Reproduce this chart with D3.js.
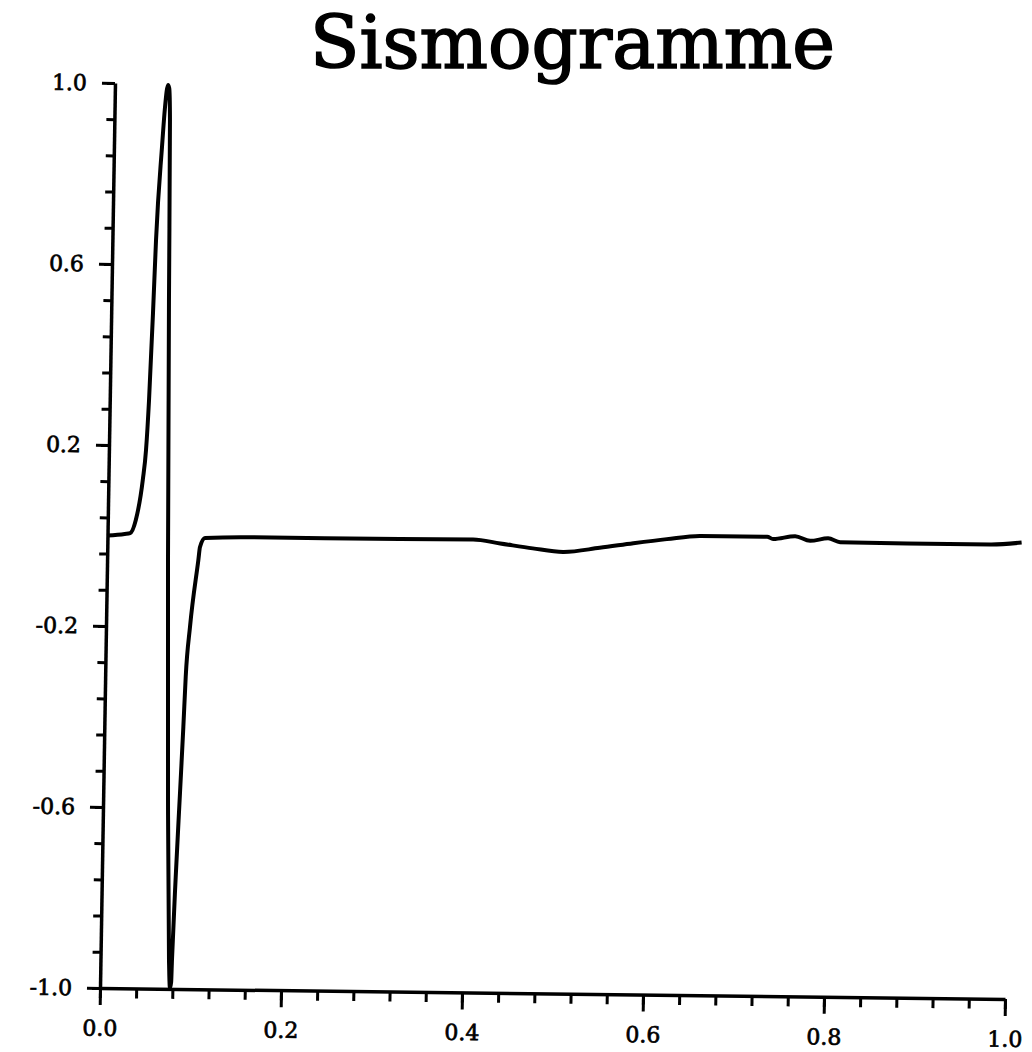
<!DOCTYPE html>
<html>
<head>
<meta charset="utf-8">
<script src="https://cdn.jsdelivr.net/npm/d3@7"></script>
<style>
  html, body { margin: 0; padding: 0; background: #fff; }
  svg { display: block; }
</style>
</head>
<body>
<svg id="chart" width="1032" height="1052"></svg>
<script>
// ---- data ----
const titleText = "Sismogramme";
const times = [0.000, 0.019, 0.025, 0.031, 0.038, 0.041, 0.0434, 0.0462, 0.0482, 0.0531, 0.0557, 0.0586, 0.0600,
  0.0614, 0.0636, 0.0673, 0.0717, 0.0757, 0.0773, 0.0785, 0.0790, 0.0816, 0.0848, 0.0873, 0.0890, 0.0928,
  0.1008, 0.1024, 0.1078, 0.1570, 0.3230, 0.4040, 0.4340, 0.4700, 0.5036, 0.5440, 0.5810, 0.6180, 0.6550,
  0.7288, 0.7354, 0.7597, 0.7763, 0.7962, 0.8095, 0.8836, 0.9753, 1.0100];
const amplitudes = [0.000, 0.004, 0.006, 0.035, 0.124, 0.190, 0.300, 0.493, 0.654, 0.860, 0.948, 0.997, 0.990,
  0.920, 0.522, -0.053, -0.583, -0.936, -0.998, -0.985, -0.936, -0.753, -0.567, -0.421, -0.310, -0.200,
  -0.052, -0.023, -0.003, 0.000, 0.000, 0.001, -0.007, -0.017, -0.024, -0.014, -0.003, 0.007, 0.015,
  0.015, 0.010, 0.017, 0.007, 0.013, 0.005, 0.004, 0.004, 0.009];
const xMajorTicks = [0.0, 0.2, 0.4, 0.6, 0.8, 1.0];
const xTickLabels = ["0.0", "0.2", "0.4", "0.6", "0.8", "1.0"];
const xMinorTicks = d3.range(0, 26).map(k => +(k * 0.04).toFixed(2));
const yMajorTicks = [-1.0, -0.6, -0.2, 0.2, 0.6, 1.0];
const yTickLabels = ["-1.0", "-0.6", "-0.2", "0.2", "0.6", "1.0"];
const yMinorTicks = d3.range(0, 26).map(k => +(-1 + k * 0.08).toFixed(2));

// ---- layout ----
const svg = d3.select("#chart");
svg.append("rect").attr("width", 1032).attr("height", 1052).attr("fill", "#fff");

const W = 905, H = 905;
// scanned page is slightly skewed: origin at (100,988)
const plot = svg.append("g")
  .attr("transform", "matrix(1,0.01215,-0.01657,1,100,988)");

const x = d3.scaleLinear().domain([0, 1]).range([0, W]);
const y = d3.scaleLinear().domain([-1, 1]).range([0, -H]);

const fontFam = "'DejaVu Serif', 'Liberation Serif', serif";

// minor ticks
plot.append("g")
  .call(d3.axisBottom(x).tickValues(xMinorTicks).tickSize(10).tickSizeOuter(0).tickFormat(""))
  .call(g => g.selectAll("line").attr("stroke", "#000").attr("stroke-width", 3))
  .call(g => g.select(".domain").attr("stroke", "#000").attr("stroke-width", 3.5));
plot.append("g")
  .call(d3.axisLeft(y).tickValues(yMinorTicks).tickSize(8).tickSizeOuter(0).tickFormat(""))
  .call(g => g.selectAll("line").attr("stroke", "#000").attr("stroke-width", 3))
  .call(g => g.select(".domain").attr("stroke", "#000").attr("stroke-width", 3.5));

// major ticks + labels
plot.append("g")
  .call(d3.axisBottom(x).tickValues(xMajorTicks).tickSize(17).tickSizeOuter(0).tickPadding(15)
    .tickFormat((d, i) => xTickLabels[i]))
  .call(g => g.select(".domain").remove())
  .call(g => g.selectAll("line").attr("stroke", "#000").attr("stroke-width", 3))
  .call(g => g.selectAll("text").attr("fill", "#000").attr("font-family", fontFam)
    .attr("font-size", 22).attr("stroke", "#000").attr("stroke-width", 0.7));
plot.append("g")
  .call(d3.axisLeft(y).tickValues(yMajorTicks).tickSize(13).tickSizeOuter(0).tickPadding(15)
    .tickFormat((d, i) => yTickLabels[i]))
  .call(g => g.select(".domain").remove())
  .call(g => g.selectAll("line").attr("stroke", "#000").attr("stroke-width", 3))
  .call(g => g.selectAll("text").attr("fill", "#000").attr("font-family", fontFam)
    .attr("font-size", 22).attr("stroke", "#000").attr("stroke-width", 0.7));

// seismogram trace
const pts = times.map((t, i) => [t, amplitudes[i]]);
plot.append("path")
  .datum(pts)
  .attr("fill", "none")
  .attr("stroke", "#000")
  .attr("stroke-width", 4)
  .attr("stroke-linejoin", "round")
  .attr("d", d3.line().x(d => x(d[0])).y(d => y(d[1])).curve(d3.curveMonotoneX));

// title
svg.append("text")
  .attr("x", 310).attr("y", 68)
  .attr("font-family", fontFam)
  .attr("font-size", 72)
  .attr("fill", "#000")
  .attr("stroke", "#000")
  .attr("stroke-width", 1.6)
  .attr("textLength", 525)
  .attr("lengthAdjust", "spacingAndGlyphs")
  .text(titleText);
</script>
</body>
</html>
